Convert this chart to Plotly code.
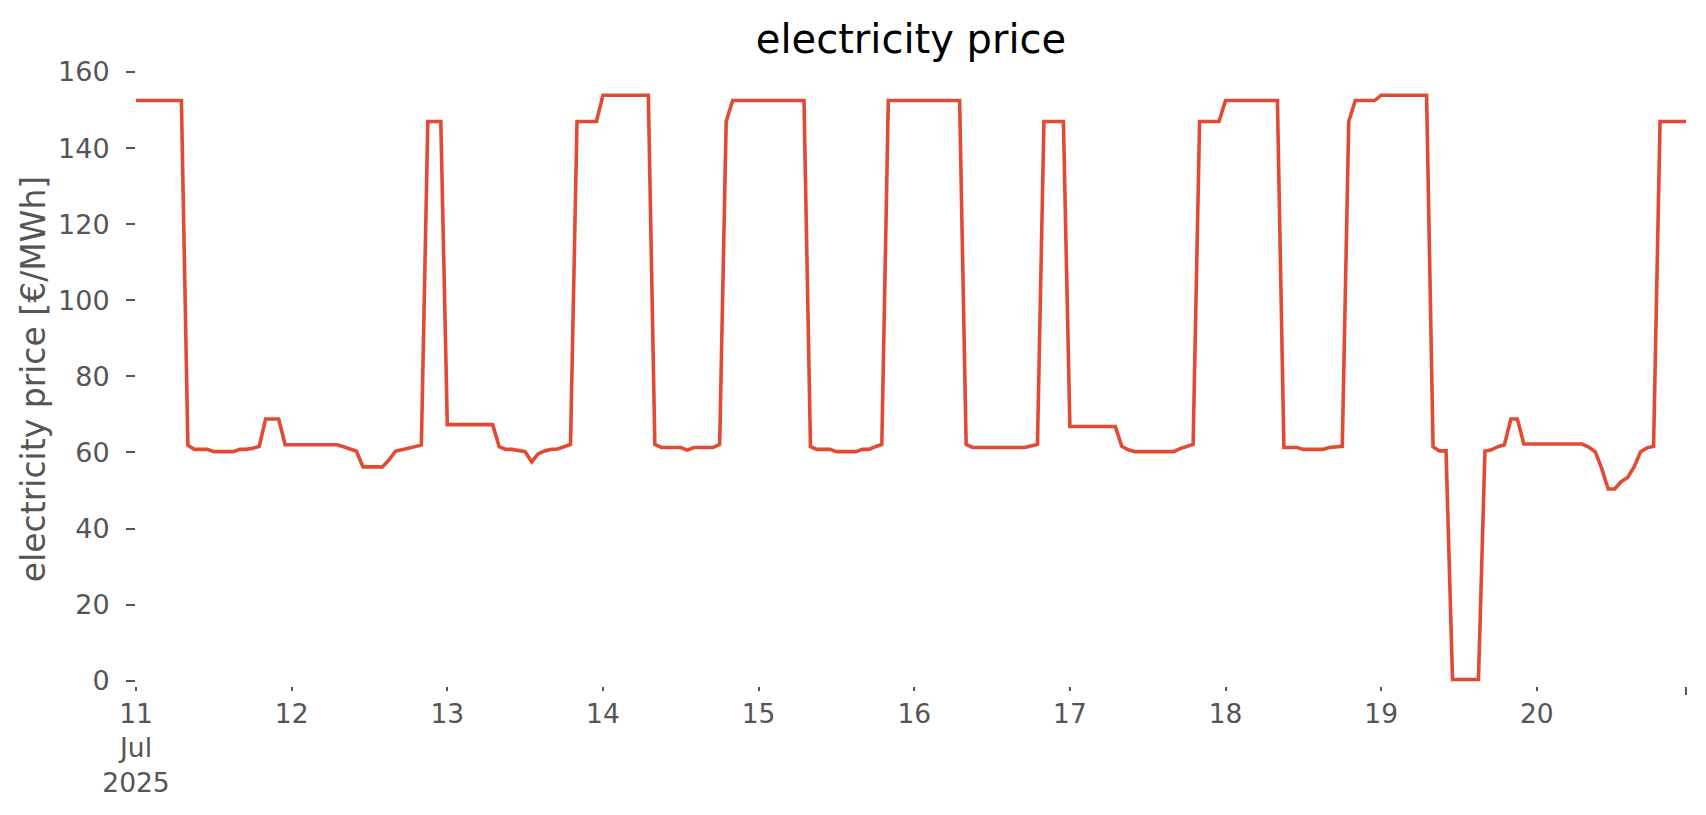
import pandas as pd
import plotly.graph_objects as go

# ---- data: hourly electricity price [€/MWh], 11 Jul 2025 00:00 .. 20 Jul 2025 23:00
start_time = "2025-07-11 00:00"

price_jul11 = [152.5, 152.5, 152.5, 152.5, 152.5, 152.5, 152.5, 152.5,
               61.9, 60.8, 60.8, 60.8, 60.2, 60.2, 60.2, 60.2,
               60.8, 60.8, 61.1, 61.6, 68.8, 68.8, 68.8, 62.0]
price_jul12 = [62.0, 62.0, 62.0, 62.0, 62.0, 62.0, 62.0, 62.0,
               61.5, 60.9, 60.3, 56.2, 56.2, 56.2, 56.2, 58.0,
               60.3, 60.7, 61.1, 61.5, 61.9, 147.0, 147.0, 147.0]
price_jul13 = [67.3, 67.3, 67.3, 67.3, 67.3, 67.3, 67.3, 67.3,
               61.5, 60.8, 60.8, 60.4, 60.2, 57.5, 59.6, 60.4,
               60.8, 60.9, 61.4, 62.1, 147.0, 147.0, 147.0, 147.0]
price_jul14 = [153.9, 153.9, 153.9, 153.9, 153.9, 153.9, 153.9, 153.9,
               62.1, 61.3, 61.3, 61.3, 61.3, 60.6, 61.3, 61.3,
               61.3, 61.3, 62.1, 147.0, 152.5, 152.5, 152.5, 152.5]
price_jul15 = [152.5, 152.5, 152.5, 152.5, 152.5, 152.5, 152.5, 152.5,
               61.5, 60.8, 60.8, 60.8, 60.2, 60.2, 60.2, 60.2,
               60.8, 60.8, 61.5, 62.1, 152.5, 152.5, 152.5, 152.5]
price_jul16 = [152.5, 152.5, 152.5, 152.5, 152.5, 152.5, 152.5, 152.5,
               62.1, 61.3, 61.3, 61.3, 61.3, 61.3, 61.3, 61.3,
               61.3, 61.3, 61.7, 62.1, 147.0, 147.0, 147.0, 147.0]
price_jul17 = [66.8, 66.8, 66.8, 66.8, 66.8, 66.8, 66.8, 66.8,
               61.6, 60.7, 60.2, 60.2, 60.2, 60.2, 60.2, 60.2,
               60.2, 61.0, 61.5, 62.1, 147.0, 147.0, 147.0, 147.0]
price_jul18 = [152.5, 152.5, 152.5, 152.5, 152.5, 152.5, 152.5, 152.5,
               152.5, 61.3, 61.3, 61.3, 60.8, 60.8, 60.8, 60.8,
               61.3, 61.5, 61.6, 147.0, 152.5, 152.5, 152.5, 152.5]
price_jul19 = [153.9, 153.9, 153.9, 153.9, 153.9, 153.9, 153.9, 153.9,
               61.5, 60.4, 60.4, 0.3, 0.3, 0.3, 0.3, 0.3,
               60.3, 60.7, 61.5, 62.0, 68.8, 68.8, 62.2, 62.2]
price_jul20 = [62.2, 62.2, 62.2, 62.2, 62.2, 62.2, 62.2, 62.2,
               61.4, 60.2, 55.8, 50.4, 50.4, 52.3, 53.4, 56.2,
               60.2, 61.2, 61.6, 147.0, 147.0, 147.0, 147.0, 147.0]

day_ticks = ["2025-07-11", "2025-07-12", "2025-07-13", "2025-07-14", "2025-07-15",
             "2025-07-16", "2025-07-17", "2025-07-18", "2025-07-19", "2025-07-20"]
day_labels = ["11<br>Jul<br>2025", "12", "13", "14", "15", "16", "17", "18", "19", "20"]
y_ticks = [0, 20, 40, 60, 80, 100, 120, 140, 160]

title_text = "electricity price"
y_title = "electricity price [€/MWh]"

# ---- build series
prices = (price_jul11 + price_jul12 + price_jul13 + price_jul14 + price_jul15 +
          price_jul16 + price_jul17 + price_jul18 + price_jul19 + price_jul20)
times = pd.date_range(start_time, periods=len(prices), freq="h")

FONT = "DejaVu Sans"
GREY = "#555555"

fig = go.Figure()
fig.add_trace(go.Scatter(x=times, y=prices, mode="lines",
                         line=dict(color="#E24A33", width=3.6),
                         showlegend=False))

fig.update_layout(
    width=1706, height=815,
    margin=dict(l=136, r=20, t=72, b=129, pad=0),
    paper_bgcolor="white", plot_bgcolor="white",
    font=dict(family=FONT, color=GREY, size=28),
    title=dict(text=title_text, x=0.5, xref="paper", xanchor="center",
               y=1 - 39 / 815, yref="container", yanchor="middle",
               font=dict(family=FONT, size=40, color="black")),
)
fig.update_xaxes(
    range=[times[0], times[-1]],
    showgrid=False, zeroline=False, showline=False,
    tickmode="array", tickvals=day_ticks, ticktext=day_labels,
    ticks="outside", ticklen=4, tickwidth=1.5, tickcolor=GREY,
    tickfont=dict(family=FONT, size=26.5, color=GREY),
    minor=dict(tickmode="array", tickvals=[times[-1]], ticks="outside",
               ticklen=8, tickwidth=2, tickcolor=GREY, showgrid=False),
)
fig.update_yaxes(
    range=[-1.4, 160],
    showgrid=False, zeroline=False, showline=False,
    tickmode="array", tickvals=y_ticks,
    ticks="outside", ticklen=9, tickwidth=1.5, tickcolor=GREY,
    ticklabelstandoff=11,
    tickfont=dict(family=FONT, size=27, color=GREY),
    title=dict(text=y_title, standoff=2,
               font=dict(family=FONT, size=33, color=GREY)),
)

fig.write_html("out.html", config={"displayModeBar": False},
               post_script="document.body.style.margin='0';document.body.style.overflow='hidden';")
